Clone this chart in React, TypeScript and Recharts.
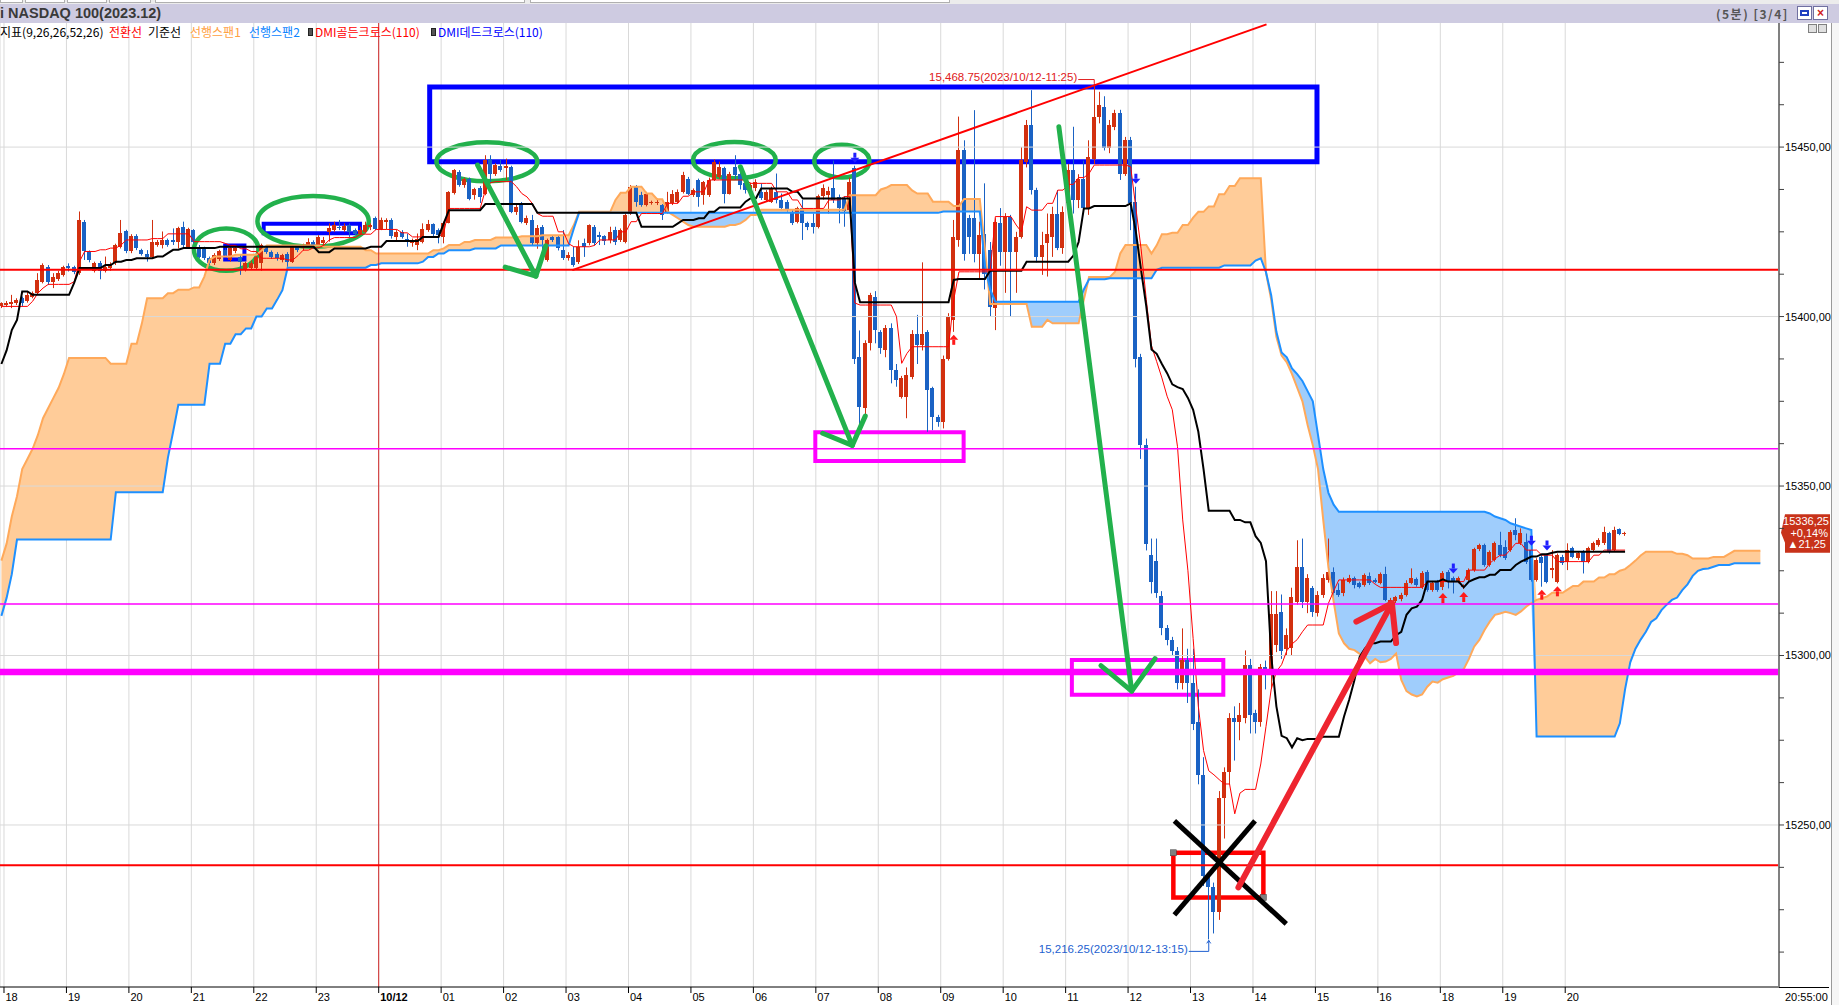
import React from 'react'
import {
    ComposedChart, XAxis, YAxis, CartesianGrid, Bar, Line, Area, Scatter,
    ReferenceLine, ReferenceArea, ReferenceDot
} from 'recharts'

// ---------- data ----------
// 5-minute candles [open, high, low, close], first one is 17:55 (index -1)
const FIRST = -1
const LAST_CANDLE = 311
const LAST_SPAN = 337

const candles: number[][] = [
    [15403.1, 15404.2, 15402.5, 15403.9],
    // 18:00
    [15403.4, 15404.6, 15402.8, 15404.1], [15403.7, 15406.4, 15402.5, 15404.4], [15403.9, 15405.4, 15403.4, 15404.9],
    [15405.4, 15405.9, 15402.9, 15404.1], [15404.7, 15407.4, 15404.1, 15406.4], [15405.9, 15407.4, 15405.4, 15406.9],
    [15406.9, 15412.8, 15406.4, 15410.8], [15410.3, 15415.7, 15409.8, 15415.2], [15414.5, 15415.2, 15409.3, 15410.3],
    [15410.3, 15412.8, 15408.4, 15411.8], [15411.0, 15413.5, 15410.5, 15412.8], [15412.3, 15415.0, 15411.8, 15414.5],
    // 19:00
    [15415.0, 15415.7, 15413.3, 15414.3], [15414.5, 15415.0, 15412.5, 15413.0], [15412.8, 15431.0, 15412.3, 15428.5],
    [15428.0, 15428.5, 15416.7, 15419.2], [15419.0, 15419.5, 15416.0, 15416.7], [15413.3, 15416.2, 15413.0, 15415.7],
    [15415.9, 15416.4, 15411.0, 15413.3], [15413.5, 15417.7, 15413.0, 15414.7], [15414.2, 15416.0, 15413.5, 15415.2],
    [15415.7, 15421.5, 15415.2, 15421.1], [15420.6, 15428.5, 15420.1, 15424.8], [15425.1, 15425.6, 15418.7, 15419.2],
    // 20:00
    [15419.2, 15424.3, 15418.7, 15423.8], [15423.8, 15424.3, 15419.6, 15420.1], [15419.6, 15420.0, 15418.0, 15418.5],
    [15418.5, 15419.6, 15416.2, 15417.7], [15417.7, 15428.5, 15417.2, 15422.1], [15421.1, 15422.6, 15420.6, 15422.1],
    [15421.1, 15425.1, 15420.1, 15422.6], [15422.6, 15423.0, 15420.6, 15421.1], [15422.6, 15426.0, 15421.1, 15422.1],
    [15422.1, 15426.5, 15420.1, 15426.2], [15426.5, 15428.0, 15420.1, 15421.1], [15420.6, 15426.2, 15420.1, 15425.8],
    // 21:00
    [15425.4, 15425.8, 15421.6, 15422.1], [15420.1, 15421.1, 15417.2, 15417.7], [15420.1, 15420.6, 15416.7, 15417.2],
    [15417.2, 15417.7, 15415.2, 15415.7], [15415.7, 15418.7, 15415.2, 15418.2], [15416.9, 15419.7, 15416.4, 15419.2],
    [15419.7, 15420.1, 15417.7, 15418.2], [15416.7, 15420.6, 15416.2, 15420.1], [15419.2, 15420.6, 15418.7, 15420.1],
    [15417.7, 15418.2, 15412.3, 15416.2], [15413.8, 15416.2, 15413.3, 15415.7], [15414.2, 15416.5, 15413.8, 15415.7],
    // 22:00
    [15414.2, 15418.2, 15413.8, 15417.7], [15415.7, 15421.5, 15413.5, 15421.1], [15420.6, 15421.0, 15418.5, 15419.1],
    [15419.1, 15419.5, 15417.0, 15417.6], [15418.6, 15419.0, 15416.5, 15417.2], [15416.7, 15418.5, 15416.0, 15418.1],
    [15418.6, 15419.0, 15414.7, 15416.2], [15416.2, 15421.0, 15415.8, 15420.6], [15420.6, 15421.0, 15419.0, 15419.6],
    [15420.1, 15421.5, 15419.5, 15421.1], [15421.1, 15423.1, 15420.8, 15422.1], [15422.1, 15422.5, 15420.0, 15420.6],
    // 23:00
    [15421.1, 15424.0, 15420.6, 15423.5], [15421.6, 15423.5, 15421.0, 15422.6], [15425.0, 15427.5, 15422.1, 15426.0],
    [15425.5, 15428.0, 15425.0, 15427.0], [15426.5, 15428.5, 15425.5, 15426.0], [15425.5, 15427.5, 15425.0, 15426.7],
    [15427.0, 15427.5, 15423.5, 15425.0], [15425.5, 15426.0, 15424.0, 15424.5], [15424.5, 15426.5, 15424.0, 15425.5],
    [15425.0, 15428.0, 15424.5, 15427.0], [15426.5, 15427.5, 15425.5, 15427.0], [15429.2, 15429.5, 15425.5, 15425.7],
    // 00:00 (10/12)
    [15425.7, 15429.2, 15425.5, 15428.5], [15428.0, 15429.0, 15425.7, 15428.5], [15428.5, 15429.0, 15423.0, 15423.7],
    [15423.5, 15425.5, 15422.1, 15425.0], [15425.0, 15425.5, 15423.0, 15423.5], [15423.0, 15424.5, 15420.6, 15422.1],
    [15421.6, 15423.0, 15420.6, 15422.6], [15421.1, 15424.5, 15419.6, 15423.0], [15422.1, 15427.5, 15421.6, 15425.7],
    [15425.5, 15428.5, 15425.0, 15427.2], [15427.2, 15427.5, 15423.5, 15424.5], [15425.5, 15426.0, 15421.6, 15424.0],
    // 01:00
    [15423.5, 15428.0, 15421.6, 15427.7], [15427.7, 15437.0, 15427.5, 15436.8], [15436.5, 15443.5, 15436.0, 15443.2],
    [15442.7, 15443.2, 15438.3, 15438.8], [15438.8, 15441.0, 15438.0, 15440.7], [15440.7, 15441.0, 15434.3, 15434.8],
    [15435.8, 15438.0, 15434.5, 15437.5], [15437.8, 15438.5, 15433.5, 15435.3], [15436.3, 15447.6, 15435.8, 15446.2],
    [15446.4, 15447.6, 15439.8, 15442.2], [15442.2, 15445.2, 15441.5, 15444.7], [15444.4, 15446.2, 15442.7, 15443.2],
    // 02:00
    [15443.7, 15446.6, 15440.3, 15444.4], [15444.2, 15444.5, 15430.5, 15430.9], [15430.9, 15433.0, 15430.0, 15432.4],
    [15433.4, 15433.8, 15427.5, 15428.0], [15427.5, 15429.8, 15427.0, 15429.2], [15428.5, 15430.0, 15421.0, 15421.6],
    [15421.6, 15427.0, 15420.0, 15426.0], [15426.5, 15427.0, 15419.6, 15422.6], [15416.7, 15423.0, 15416.2, 15422.6],
    [15423.5, 15424.0, 15422.0, 15422.6], [15423.5, 15424.0, 15419.5, 15420.1], [15419.6, 15425.5, 15416.7, 15417.2],
    // 03:00
    [15417.2, 15419.0, 15416.5, 15418.1], [15417.6, 15420.6, 15414.7, 15415.2], [15416.2, 15422.5, 15415.5, 15420.6],
    [15421.6, 15423.0, 15417.6, 15420.6], [15421.6, 15427.2, 15421.0, 15427.0], [15426.5, 15427.0, 15421.0, 15421.6],
    [15424.0, 15425.0, 15421.1, 15423.5], [15423.7, 15424.0, 15421.1, 15422.3], [15422.6, 15426.5, 15421.6, 15425.0],
    [15425.5, 15426.5, 15421.1, 15422.1], [15422.6, 15426.0, 15422.0, 15425.5], [15422.1, 15430.5, 15421.6, 15430.0],
    // 04:00
    [15430.4, 15438.8, 15430.0, 15438.3], [15438.3, 15438.8, 15432.4, 15433.9], [15435.8, 15436.8, 15432.4, 15432.9],
    [15432.9, 15436.8, 15432.5, 15436.3], [15433.4, 15434.2, 15433.0, 15433.9], [15433.4, 15434.8, 15432.9, 15433.9],
    [15432.9, 15433.2, 15428.5, 15429.9], [15430.9, 15436.8, 15430.4, 15433.9], [15433.4, 15437.3, 15432.9, 15436.3],
    [15433.9, 15437.5, 15433.5, 15436.8], [15436.8, 15442.7, 15436.3, 15441.7], [15440.7, 15441.2, 15435.8, 15436.3],
    // 05:00
    [15435.8, 15437.8, 15435.3, 15437.3], [15440.3, 15440.7, 15432.4, 15435.3], [15435.8, 15440.0, 15433.0, 15439.8],
    [15435.8, 15441.0, 15435.3, 15440.3], [15440.3, 15446.4, 15440.0, 15445.7], [15441.2, 15445.7, 15440.7, 15444.2],
    [15443.7, 15444.2, 15433.4, 15436.3], [15436.3, 15442.7, 15436.0, 15442.2], [15444.2, 15447.6, 15440.3, 15441.7],
    [15442.2, 15443.0, 15437.5, 15438.8], [15439.3, 15441.2, 15436.3, 15437.3], [15437.3, 15439.5, 15436.8, 15438.8],
    // 06:00
    [15437.8, 15440.5, 15437.0, 15439.8], [15436.8, 15439.3, 15434.4, 15434.9], [15434.4, 15437.3, 15434.0, 15436.8],
    [15433.9, 15438.3, 15433.5, 15437.8], [15436.8, 15442.2, 15433.4, 15434.4], [15434.4, 15436.3, 15431.4, 15431.9],
    [15433.9, 15434.4, 15431.0, 15431.4], [15430.9, 15431.4, 15427.0, 15427.5], [15428.0, 15432.4, 15427.5, 15431.9],
    [15431.9, 15434.4, 15422.6, 15427.7], [15427.5, 15428.0, 15425.5, 15426.5], [15427.7, 15430.4, 15424.5, 15426.3],
    // 07:00
    [15426.5, 15436.0, 15426.0, 15435.5], [15435.5, 15439.0, 15434.5, 15437.8], [15436.0, 15438.3, 15430.4, 15437.0],
    [15437.8, 15446.0, 15433.5, 15434.4], [15435.2, 15436.0, 15427.5, 15431.9], [15434.9, 15435.5, 15426.5, 15431.0],
    [15431.4, 15441.0, 15430.5, 15439.8], [15443.7, 15444.5, 15386.0, 15387.6], [15388.1, 15395.9, 15366.8, 15373.4],
    [15373.0, 15393.0, 15371.0, 15392.1], [15392.1, 15407.0, 15390.0, 15406.3], [15405.8, 15407.5, 15392.1, 15396.0],
    // 08:00
    [15395.5, 15396.0, 15389.0, 15390.6], [15390.1, 15397.5, 15388.0, 15396.5], [15396.5, 15398.0, 15380.3, 15384.2],
    [15384.2, 15386.0, 15379.3, 15381.3], [15376.3, 15382.5, 15375.8, 15381.8], [15376.3, 15385.0, 15370.0, 15382.7],
    [15382.2, 15396.0, 15381.5, 15395.0], [15395.0, 15400.5, 15386.0, 15391.6], [15391.6, 15416.0, 15390.0, 15395.0],
    [15395.5, 15396.0, 15366.0, 15378.3], [15378.8, 15379.3, 15366.5, 15370.4], [15370.4, 15371.0, 15367.5, 15369.0],
    // 09:00
    [15369.0, 15388.5, 15367.0, 15387.6], [15387.6, 15401.0, 15387.0, 15400.0], [15399.0, 15428.5, 15395.5, 15423.5],
    [15422.6, 15459.0, 15420.6, 15449.1], [15449.1, 15452.0, 15416.5, 15418.6], [15429.0, 15430.0, 15418.5, 15423.5],
    [15429.0, 15460.9, 15416.0, 15418.6], [15418.6, 15428.0, 15410.8, 15424.0], [15424.5, 15439.3, 15408.0, 15412.7],
    [15419.6, 15422.0, 15400.0, 15402.9], [15402.4, 15429.0, 15396.0, 15428.0], [15427.5, 15432.0, 15415.0, 15419.1],
    // 10:00
    [15419.1, 15430.5, 15407.0, 15429.5], [15429.5, 15430.0, 15400.0, 15419.1], [15419.1, 15425.0, 15407.0, 15423.5],
    [15423.5, 15450.0, 15423.0, 15446.2], [15445.7, 15458.0, 15444.0, 15456.5], [15456.5, 15466.8, 15436.0, 15437.3],
    [15437.3, 15438.0, 15416.0, 15417.6], [15417.6, 15425.0, 15412.3, 15421.1], [15421.6, 15430.4, 15411.8, 15424.5],
    [15423.5, 15432.4, 15417.6, 15430.4], [15430.4, 15437.3, 15419.6, 15420.1], [15420.1, 15432.5, 15418.5, 15430.9],
    // 11:00
    [15433.4, 15445.0, 15430.0, 15443.2], [15443.2, 15456.0, 15430.4, 15434.4], [15434.4, 15442.0, 15432.0, 15440.7],
    [15440.7, 15446.0, 15431.0, 15431.9], [15431.9, 15452.0, 15430.0, 15447.1], [15446.6, 15468.75, 15445.0, 15458.9],
    [15459.0, 15466.3, 15457.0, 15462.4], [15461.9, 15465.0, 15449.0, 15449.6], [15449.6, 15458.0, 15448.2, 15456.5],
    [15456.0, 15461.0, 15455.0, 15460.0], [15460.0, 15461.0, 15440.3, 15442.2], [15442.2, 15453.0, 15441.5, 15452.1],
    // 12:00
    [15452.1, 15453.0, 15425.5, 15433.4], [15433.9, 15438.3, 15385.0, 15387.6], [15388.0, 15389.0, 15358.0, 15362.0],
    [15362.0, 15364.0, 15331.0, 15333.0], [15329.8, 15334.5, 15318.3, 15321.7], [15327.8, 15334.5, 15317.0, 15318.3],
    [15317.6, 15319.0, 15306.0, 15308.1], [15308.1, 15309.0, 15303.0, 15304.7], [15304.7, 15305.5, 15300.0, 15301.4],
    [15301.4, 15302.5, 15290.0, 15291.9], [15291.9, 15308.0, 15290.0, 15298.6], [15298.6, 15302.0, 15286.0, 15291.9],
    // 13:00
    [15291.9, 15302.0, 15278.0, 15279.7], [15280.4, 15290.0, 15262.0, 15264.8], [15264.8, 15270.0, 15232.0, 15235.0],
    [15235.0, 15236.0, 15216.25, 15231.6], [15231.6, 15233.0, 15218.0, 15224.2], [15224.2, 15260.0, 15222.0, 15258.0],
    [15258.0, 15267.0, 15246.0, 15265.5], [15265.5, 15283.0, 15262.0, 15281.7], [15281.7, 15285.0, 15269.0, 15280.4],
    [15280.4, 15286.0, 15275.0, 15282.4], [15281.7, 15301.5, 15280.0, 15297.3], [15297.3, 15299.0, 15277.0, 15282.4],
    // 14:00
    [15283.0, 15284.0, 15277.0, 15280.4], [15280.4, 15297.5, 15279.0, 15296.6], [15296.6, 15298.5, 15290.0, 15295.0],
    [15295.0, 15319.0, 15290.0, 15312.2], [15303.0, 15319.0, 15301.0, 15312.2], [15312.9, 15318.0, 15299.0, 15301.4],
    [15302.0, 15308.0, 15300.0, 15306.0], [15302.1, 15320.0, 15300.0, 15317.4], [15315.9, 15334.0, 15315.0, 15326.2],
    [15326.2, 15334.5, 15314.0, 15315.9], [15315.9, 15324.0, 15312.5, 15322.8], [15319.8, 15320.5, 15311.4, 15312.9],
    // 15:00
    [15312.4, 15319.0, 15311.5, 15317.9], [15317.9, 15324.0, 15317.0, 15322.8], [15322.3, 15334.5, 15321.5, 15324.7],
    [15324.7, 15326.0, 15317.3, 15318.5], [15319.3, 15321.3, 15317.3, 15317.9], [15318.3, 15323.0, 15317.5, 15322.3],
    [15321.8, 15323.8, 15321.3, 15322.8], [15322.8, 15323.3, 15319.8, 15320.8], [15321.3, 15321.8, 15319.8, 15320.3],
    [15320.8, 15324.2, 15320.3, 15323.7], [15323.5, 15324.5, 15320.8, 15321.3], [15322.3, 15322.8, 15321.3, 15321.8],
    // 16:00
    [15321.5, 15324.5, 15321.0, 15324.0], [15324.0, 15326.2, 15316.0, 15316.4], [15315.2, 15317.0, 15314.5, 15316.4],
    [15316.2, 15317.6, 15315.5, 15317.2], [15316.6, 15318.5, 15316.0, 15317.9], [15317.9, 15322.2, 15317.4, 15321.5],
    [15321.5, 15325.7, 15321.0, 15322.8], [15322.5, 15323.0, 15320.3, 15320.8], [15320.1, 15324.9, 15319.6, 15324.4],
    [15324.7, 15325.2, 15318.8, 15319.3], [15319.3, 15322.0, 15318.8, 15321.3], [15321.8, 15322.3, 15318.8, 15319.3],
    // 18:00
    [15320.3, 15324.9, 15319.3, 15324.4], [15324.7, 15325.2, 15319.8, 15321.8], [15322.8, 15323.3, 15318.3, 15321.8],
    [15321.8, 15323.3, 15321.3, 15322.8], [15320.1, 15321.0, 15319.6, 15320.5], [15322.3, 15325.7, 15321.8, 15325.2],
    [15325.2, 15331.8, 15324.7, 15331.3], [15331.3, 15333.0, 15330.8, 15332.6], [15332.6, 15333.0, 15326.2, 15326.7],
    [15326.7, 15331.0, 15326.2, 15330.6], [15328.2, 15333.6, 15327.7, 15333.1], [15332.6, 15336.5, 15329.0, 15329.6],
    // 19:00
    [15332.1, 15334.0, 15328.2, 15328.7], [15331.1, 15337.0, 15330.6, 15336.5], [15337.0, 15340.5, 15334.0, 15335.5],
    [15333.1, 15337.5, 15332.6, 15336.0], [15333.6, 15336.0, 15327.0, 15327.7], [15331.1, 15331.5, 15321.8, 15322.3],
    [15322.3, 15328.7, 15321.8, 15328.2], [15329.2, 15329.7, 15320.3, 15327.2], [15329.6, 15330.1, 15321.3, 15321.8],
    [15325.2, 15331.1, 15322.8, 15325.7], [15321.8, 15330.1, 15321.3, 15329.6], [15329.2, 15329.7, 15326.7, 15327.2],
    // 20:00
    [15327.7, 15333.1, 15325.2, 15331.1], [15331.6, 15332.1, 15328.7, 15329.2], [15328.7, 15330.6, 15328.2, 15330.1],
    [15330.6, 15331.1, 15324.2, 15327.7], [15327.7, 15332.1, 15327.2, 15331.6], [15331.1, 15333.6, 15330.6, 15333.1],
    [15332.6, 15334.6, 15332.1, 15334.1], [15333.1, 15338.0, 15332.6, 15336.5], [15336.0, 15336.5, 15330.1, 15330.6],
    [15331.1, 15338.0, 15330.6, 15337.0], [15337.2, 15337.5, 15335.5, 15335.8], [15336.0, 15336.5, 15335.3, 15336.25],
]

// ichimoku lines as [candle index, value] change points (value holds until the next point)
const convPts: number[][] = [
    [-1, 15403], [5, 15404.5], [6, 15406.9], [7, 15408.4], [8, 15409.5], [13, 15410.3], [14, 15416.2], [15, 15419.2],
    [18, 15419.7], [20, 15420.2], [22, 15421.1], [23, 15422.6], [28, 15423], [31, 15424.4], [36, 15422.1], [42, 15421.6],
    [43, 15421], [45, 15420], [47, 15419.2], [49, 15417.2], [54, 15416.7], [56, 15418], [57, 15419.6], [59, 15420.3],
    [61, 15421.1], [62, 15422.6], [63, 15423.3], [68, 15424.3], [71, 15425.7], [76, 15424.7], [78, 15423.5], [84, 15424.7],
    [85, 15431.9], [92, 15437.3], [93, 15439.5], [94, 15439.8], [98, 15438.3], [99, 15436.3], [100, 15435.3], [101, 15433.4],
    [102, 15430.4], [103, 15429.6], [106, 15425], [108, 15421.5], [109, 15420.6], [113, 15421], [114, 15422.6], [118, 15425],
    [120, 15428], [122, 15430.4], [127, 15433.4], [130, 15435.5], [132, 15436.8], [135, 15440.3], [143, 15439.3],
    [148, 15436.8], [151, 15434.4], [153, 15431.9], [158, 15434.4], [161, 15435.4], [163, 15404], [164, 15403.4],
    [171, 15400], [172, 15386.2], [173, 15389.1], [174, 15391.1], [182, 15405], [183, 15413.2], [190, 15429.5],
    [194, 15427], [195, 15425], [196, 15432.4], [197, 15431.4], [200, 15433.4], [202, 15437.3], [204, 15439], [206, 15441],
    [208, 15442.2], [209, 15444.7], [216, 15444.2], [217, 15432], [218, 15420], [219, 15405], [220, 15391.4], [221, 15386.7],
    [222, 15381.9], [223, 15376.5], [224, 15372.5], [225, 15361.6], [226, 15340], [227, 15325], [228, 15305], [229, 15285],
    [230, 15272], [231, 15266], [232, 15264.8], [233, 15263.4], [234, 15262.1], [236, 15253.3], [237, 15259.4],
    [238, 15260.5], [241, 15268], [242, 15279], [243, 15290], [244, 15295.3], [245, 15297.3], [246, 15301.4],
    [247, 15303.4], [248, 15304.7], [249, 15307], [250, 15309], [254, 15315.4], [255, 15319], [256, 15322.3], [263, 15321],
    [264, 15320.1], [273, 15321.8], [281, 15325.2], [285, 15327.2], [286, 15328.5], [287, 15329.6], [289, 15331.3],
    [290, 15333.1], [292, 15331.1], [295, 15329.6], [298, 15327.7], [305, 15329.6], [307, 15331.1],
]

const basePts: number[][] = [
    [-1, 15386], [0, 15390], [1, 15396], [2, 15399], [3, 15407.4], [5, 15406.4], [13, 15410], [14, 15414.3], [19, 15415.2],
    [21, 15416.2], [23, 15416.7], [25, 15417.2], [29, 15417.7], [31, 15418.7], [32, 15419.7], [34, 15420.2], [41, 15420.6],
    [60, 15419], [63, 15420.1], [70, 15420.6], [73, 15422.3], [80, 15423.5], [84, 15427.5], [85, 15431.4], [92, 15433.2],
    [102, 15430.6], [122, 15426.5], [129, 15427.5], [130, 15428.5], [133, 15429], [135, 15430.9], [137, 15432.2],
    [142, 15433.9], [143, 15434.9], [145, 15437.8], [151, 15436.8], [153, 15434.8], [163, 15410], [164, 15404.2],
    [182, 15410.8], [183, 15411.1], [189, 15413.5], [196, 15416.2], [205, 15418], [206, 15422], [207, 15431.9],
    [209, 15432.6], [216, 15433.4], [217, 15425], [218, 15413.7], [219, 15403], [220, 15390.3], [221, 15389], [222, 15386],
    [223, 15383.3], [224, 15380], [225, 15379.2], [226, 15378.6], [227, 15376], [228, 15372.5], [229, 15366], [230, 15355],
    [231, 15342.7], [236, 15340], [238, 15339.3], [240, 15335.2], [241, 15333.2], [242, 15327.8], [243, 15300],
    [244, 15285], [245, 15276.3], [246, 15275.6], [247, 15272.9], [248, 15275.6], [249, 15275], [250, 15275.4],
    [253, 15276], [257, 15282], [258, 15287], [259, 15292.8], [260, 15299.6], [261, 15302], [262, 15303.6], [264, 15304.1],
    [267, 15306], [268, 15307], [269, 15312], [270, 15313.9], [271, 15314.4], [272, 15316.4], [273, 15321.8],
    [276, 15322.5], [277, 15321.8], [280, 15320.1], [281, 15321.8], [282, 15322.5], [283, 15323.1], [285, 15323.8],
    [287, 15325.2], [290, 15326.7], [291, 15327.7], [292, 15328.4], [293, 15329.2], [295, 15329.9], [297, 15330.3],
    [298, 15330.6],
]

const span1Pts: number[][] = [
    [-1, 15328], [0, 15333], [1, 15341], [2, 15347], [3, 15355], [4, 15358], [5, 15361], [6, 15365], [7, 15370], [8, 15373],
    [9, 15376], [10, 15379], [11, 15383], [12, 15387.8], [20, 15386.1], [24, 15392], [26, 15398], [27, 15405.4],
    [31, 15406.9], [33, 15407.9], [36, 15408.6], [38, 15411.8], [39, 15416.7], [40, 15417.7], [44, 15418.2], [49, 15419.5],
    [50, 15421], [61, 15420.6], [69, 15419.6], [71, 15418.6], [82, 15419.6], [84, 15420.1], [85, 15421.1], [88, 15422],
    [90, 15422.6], [94, 15423.3], [99, 15423.7], [103, 15424], [109, 15427], [110, 15430.9], [117, 15434.4], [118, 15436.5],
    [120, 15438.3], [123, 15436.3], [125, 15434.6], [127, 15431], [128, 15430], [129, 15429], [130, 15428], [131, 15427],
    [132, 15426.5], [139, 15427], [141, 15427.5], [142, 15428.5], [143, 15430], [145, 15431.5], [162, 15435.8],
    [168, 15437.5], [169, 15438], [170, 15438.8], [174, 15437.2], [175, 15436.3], [178, 15433.9], [182, 15432.6],
    [184, 15434.7], [188, 15420], [189, 15403.7], [197, 15397], [200, 15399], [201, 15398], [207, 15405], [208, 15411.7],
    [213, 15413.2], [214, 15418.6], [215, 15421.1], [220, 15418.6], [221, 15421], [222, 15424.3], [224, 15424.7],
    [226, 15427], [228, 15429.2], [229, 15430.9], [231, 15432.5], [233, 15436.1], [235, 15438.5], [237, 15440.8],
    [242, 15413], [243, 15405], [244, 15394], [245, 15388.5], [246, 15386.5], [247, 15383], [248, 15379], [249, 15375],
    [250, 15368], [251, 15362], [252, 15355], [253, 15340], [254, 15326], [255, 15316], [256, 15306.5], [257, 15303.6],
    [258, 15302], [259, 15301.6], [260, 15300.5], [261, 15299.6], [262, 15297.7], [263, 15299], [264, 15298],
    [265, 15298.2], [266, 15299], [267, 15300.6], [268, 15292.8], [269, 15289.5], [270, 15288.5], [271, 15287.9],
    [272, 15288.5], [273, 15290.8], [274, 15292.3], [275, 15292], [276, 15293], [277, 15293.5], [278, 15294], [279, 15295],
    [280, 15296], [281, 15299], [282, 15302.6], [283, 15304.6], [284, 15307.5], [285, 15310], [286, 15312], [287, 15312.4],
    [288, 15312.9], [289, 15312.5], [290, 15312], [291, 15313], [292, 15314.4], [293, 15315.5], [294, 15316.4],
    [295, 15316.9], [296, 15317.4], [297, 15318.5], [300, 15319.5], [301, 15320.5], [303, 15321.8], [306, 15323],
    [308, 15324], [310, 15325], [311, 15325.5], [312, 15326.7], [313, 15328], [314, 15329.5], [315, 15330.6], [321, 15330],
    [323, 15329.6], [324, 15328.6], [328, 15329.1], [331, 15330], [332, 15330.9],
]

const span2Pts: number[][] = [
    [-1, 15311.7], [0, 15317], [1, 15324], [2, 15334.2], [21, 15348.2], [31, 15358.4], [32, 15366], [33, 15374],
    [39, 15386.1], [42, 15392], [44, 15394.8], [46, 15396.5], [48, 15400], [50, 15402.4], [52, 15405], [53, 15407.8],
    [54, 15414.4], [70, 15415.2], [72, 15415.7], [80, 15416.2], [81, 15417.6], [83, 15418.6], [85, 15419.6], [90, 15420.1],
    [95, 15421], [109, 15426], [110, 15430.6], [180, 15431], [188, 15415], [189, 15408], [190, 15404.4], [207, 15408],
    [208, 15411], [212, 15411.3], [221, 15413.8], [222, 15414.4], [234, 15415.1], [240, 15416.5], [241, 15417.2],
    [242, 15413.1], [243, 15406.3], [244, 15395.5], [245, 15389.4], [246, 15388], [247, 15384.7], [248, 15383],
    [249, 15381], [250, 15378], [251, 15375], [252, 15365], [253, 15355], [254, 15348], [255, 15344.5], [256, 15342.4],
    [285, 15341.9], [286, 15341], [287, 15340.5], [288, 15340], [289, 15339], [290, 15338.5], [291, 15338], [292, 15337.5],
    [293, 15337], [294, 15276.1], [310, 15280], [311, 15290], [312, 15298], [313, 15302], [314, 15304.7], [315, 15307],
    [316, 15309.9], [317, 15311], [318, 15313.4], [319, 15315], [320, 15316.4], [321, 15317.1], [322, 15319.3], [323, 15321],
    [324, 15323.5], [325, 15325], [326, 15325.5], [327, 15325.7], [328, 15326.2], [329, 15326.7], [332, 15327.2],
]

// DMI cross signals (candle indices)
const dmiDead = [163, 217, 278, 293, 296]
const dmiGolden = [182, 276, 280, 295, 298]

// axis ticks
const hourTicks = [-0.5, 11.5, 23.5, 35.5, 47.5, 59.5, 71.5, 83.5, 95.5, 107.5, 119.5, 131.5, 143.5, 155.5, 167.5,
    179.5, 191.5, 203.5, 215.5, 227.5, 239.5, 251.5, 263.5, 275.5, 287.5, 299.5]
const hourLabels = ['18', '19', '20', '21', '22', '23', '10/12', '01', '02', '03', '04', '05', '06', '07', '08', '09',
    '10', '11', '12', '13', '14', '15', '16', '18', '19', '20']
const priceTicks = [15212.5, 15225, 15237.5, 15250, 15262.5, 15275, 15287.5, 15300, 15312.5, 15325, 15337.5, 15350,
    15362.5, 15375, 15387.5, 15400, 15412.5, 15425, 15437.5, 15450, 15462.5, 15475]
const gridPrices = [15250, 15300, 15350, 15400, 15450]

// session extremes and last price
const extremes = [
    { i: 209, price: 15468.75, time: '2023/10/12-11:25', side: 'high' },
    { i: 231, price: 15216.25, time: '2023/10/12-13:15', side: 'low' },
]
const lastPrice = { price: 15336.25, pct: '+0,14%', change: '▲21,25' }

// user drawings (in candle index / price units)
const levels = [
    { y: 15413.8, color: '#ff0000', w: 2 },
    { y: 15361.0, color: '#ff00ff', w: 1.5 },
    { y: 15315.2, color: '#ff00ff', w: 1.5 },
    { y: 15295.1, color: '#ff00ff', w: 6.5 },
    { y: 15238.1, color: '#ff0000', w: 2 },
]
const boxes = [
    { x1: 81.3, x2: 251.8, y1: 15445.7, y2: 15467.7, color: '#0000ff', w: 5 },
    { x1: 42, x2: 45.7, y1: 15416.8, y2: 15421, color: '#0000ff', w: 4 },
    { x1: 49.4, x2: 67.9, y1: 15424.6, y2: 15427.4, color: '#0000ff', w: 4 },
    { x1: 155.4, x2: 183.9, y1: 15357.4, y2: 15365.9, color: '#ff00ff', w: 4 },
    { x1: 204.7, x2: 233.8, y1: 15288.4, y2: 15298.7, color: '#ff00ff', w: 4 },
]
const ovals = [
    { x1: 36, x2: 48.4, y1: 15413.5, y2: 15426 },
    { x1: 48.2, x2: 69.6, y1: 15420.6, y2: 15435.6 },
    { x1: 82.6, x2: 102, y1: 15439.9, y2: 15451.4 },
    { x1: 131.9, x2: 147.8, y1: 15440.8, y2: 15451.5 },
    { x1: 155.2, x2: 165.8, y1: 15441, y2: 15450.7 },
]
const arrows = [
    { from: [90.5, 15444.7], to: [101.7, 15411.9], color: '#22b14c', w: 5, head: 32, spread: 0.8 },
    { from: [141, 15444.2], to: [162.5, 15362], color: '#22b14c', w: 5, head: 32, spread: 0.8 },
    { from: [202.2, 15456], to: [216.2, 15289.5], color: '#22b14c', w: 5, head: 40, spread: 0.75 },
    { from: [236.7, 15231.6], to: [266.2, 15315.4], color: '#ee2530', w: 6, head: 40, spread: 0.6 },
]
const trendLine = { from: [108.7, 15413.7], to: [242.1, 15486.2] }
const crossLines = [
    { from: [224.4, 15251.2], to: [245.9, 15220.8] },
    { from: [224.4, 15223.5], to: [239.9, 15251.2] },
]
const redBox = { x1: 224.2, x2: 241.5, y1: 15228.6, y2: 15241.8 }

// ---------- styles ----------
const UP = '#d2300f'
const DOWN = '#1a62c4'
const NUM_FONT = "'Liberation Sans', Arial, sans-serif"
const KR_FONT = "'Noto Sans CJK KR', 'Noto Sans', sans-serif"

const holdValue = (pts: number[][], i: number): number | null => {
    if (i < pts[0][0]) return null
    let v: number | null = null
    for (const [k, val] of pts) {
        if (k <= i) v = val
        else break
    }
    return v
}

const rows: any[] = []
for (let i = FIRST; i <= LAST_SPAN; i++) {
    const cd = candles[i - FIRST]
    const s1 = holdValue(span1Pts, i)
    const s2 = holdValue(span2Pts, i)
    rows.push({
        i,
        hl: cd ? [cd[2], cd[1]] : null,
        o: cd ? cd[0] : null,
        h: cd ? cd[1] : null,
        l: cd ? cd[2] : null,
        c: cd ? cd[3] : null,
        conv: i <= LAST_CANDLE ? holdValue(convPts, i) : null,
        base: i <= LAST_CANDLE ? holdValue(basePts, i) : null,
        s1,
        s2,
        cloudUp: s1 != null && s2 != null ? [s2, Math.max(s1, s2)] : null,
        cloudDown: s1 != null && s2 != null ? [Math.min(s1, s2), s2] : null,
    })
}

const deadPts = dmiDead.map(i => ({ i, y: candles[i - FIRST][1] }))
const goldenPts = dmiGolden.map(i => ({ i, y: candles[i - FIRST][2] }))

const Candle = (props: any) => {
    const { x, width, payload } = props
    let { y, height } = props
    if (!payload || payload.o == null || x == null) return null
    if (height < 0) { y += height; height = -height }
    const { o, h, l, c } = payload
    const color = c >= o ? UP : DOWN
    const cx = Math.floor(x + width / 2) + 0.5
    const k = h - l > 0 ? height / (h - l) : 0
    const yo = y + (h - o) * k
    const yc = y + (h - c) * k
    const top = Math.min(yo, yc)
    const bh = Math.max(1, Math.abs(yo - yc))
    return (
        <g>
            <line x1={cx} x2={cx} y1={y} y2={y + height} stroke={color} strokeWidth={1} />
            <rect x={cx - 2.5} y={top} width={4} height={bh} fill={color} shapeRendering="crispEdges" />
        </g>
    )
}

const DownArrow = (p: any) => {
    const { cx, cy } = p
    return (
        <g fill="#1f1fff">
            <rect x={cx - 1.5} y={cy - 13} width={3} height={5} />
            <polygon points={`${cx - 4.5},${cy - 8} ${cx + 4.5},${cy - 8} ${cx},${cy - 3}`} />
        </g>
    )
}

const UpArrow = (p: any) => {
    const { cx, cy } = p
    return (
        <g fill="#ff1a1a">
            <polygon points={`${cx},${cy + 3} ${cx - 4.5},${cy + 8} ${cx + 4.5},${cy + 8}`} />
            <rect x={cx - 1.5} y={cy + 8} width={3} height={5} />
        </g>
    )
}

const arrowShape = (color: string, w: number, head: number, spread: number) => (p: any) => {
    const { x1, y1, x2, y2 } = p
    const ang = Math.atan2(y2 - y1, x2 - x1) + Math.PI
    const a = ang - spread
    const b = ang + spread
    return (
        <g>
            <line x1={x1} y1={y1} x2={x2} y2={y2} stroke={color} strokeWidth={w} strokeLinecap="round" />
            <polyline
                points={`${x2 + head * Math.cos(a)},${y2 + head * Math.sin(a)} ${x2},${y2} ${x2 + head * Math.cos(b)},${y2 + head * Math.sin(b)}`}
                fill="none" stroke={color} strokeWidth={w} strokeLinecap="round" strokeLinejoin="round"
            />
        </g>
    )
}

const ovalShape = (p: any) => (
    <ellipse cx={p.x + p.width / 2} cy={p.y + p.height / 2} rx={p.width / 2} ry={p.height / 2}
        fill="none" stroke="#22b14c" strokeWidth={4.5} />
)

const redBoxShape = (p: any) => (
    <g>
        <rect x={p.x} y={p.y} width={p.width} height={p.height} fill="none" stroke="#ff0000" strokeWidth={4.5} />
        <rect x={p.x - 3} y={p.y - 3} width={6} height={6} fill="#808080" stroke="#404040" strokeWidth={0.5} />
        <rect x={p.x + p.width - 3} y={p.y + p.height - 3} width={6} height={6} fill="#808080" stroke="#404040" strokeWidth={0.5} />
    </g>
)

const fmtExt = (v: number) => v.toLocaleString('en-US', { minimumFractionDigits: 2, maximumFractionDigits: 2 })

const extremeShape = (e: any) => (p: any) => {
    const { cx, cy } = p
    const text = `${fmtExt(e.price)}(${e.time})`
    if (e.side === 'high') {
        const ly = cy - 4
        return (
            <g>
                <text x={cx - 17} y={cy - 7} dy="0.35em" textAnchor="end" fill="#e02020" fontSize={11.5} fontFamily={NUM_FONT}>{text}</text>
                <polyline points={`${cx - 16},${ly} ${cx},${ly} ${cx},${cy}`} fill="none" stroke="#e02020" strokeWidth={1} />
            </g>
        )
    }
    const ly = cy + 12
    return (
        <g>
            <text x={cx - 21} y={cy + 10} dy="0.35em" textAnchor="end" fill="#1e5fd0" fontSize={11.5} fontFamily={NUM_FONT}>{text}</text>
            <polyline points={`${cx - 20},${ly} ${cx},${ly} ${cx},${cy + 1}`} fill="none" stroke="#1e5fd0" strokeWidth={1} />
            <polyline points={`${cx - 2},${cy + 4} ${cx},${cy + 1} ${cx + 2},${cy + 4}`} fill="none" stroke="#1e5fd0" strokeWidth={1} />
        </g>
    )
}

const priceTag = (p: any) => {
    const x0 = Math.max(p.x1, p.x2)
    const y = p.y1
    const top = y - 18.5
    const bot = y + 20
    return (
        <g>
            <polygon points={`${x0 + 6},${top} ${x0 + 2},${y} ${x0 + 6},${y + 10} ${x0 + 6},${bot} ${x0 + 51},${bot} ${x0 + 51},${top}`} fill="#c8321a" />
            <text x={x0 + 50} y={y - 11} dy="0.35em" textAnchor="end" fill="#fff" fontSize={11} fontFamily={NUM_FONT}>
                {lastPrice.price.toFixed(2).replace('.', ',')}
            </text>
            <text x={x0 + 49} y={y + 1} dy="0.35em" textAnchor="end" fill="#fff" fontSize={11} fontFamily={NUM_FONT}>{lastPrice.pct}</text>
            <text x={x0 + 47} y={y + 12} dy="0.35em" textAnchor="end" fill="#fff" fontSize={11} fontFamily={NUM_FONT}>{lastPrice.change}</text>
        </g>
    )
}

const XTick = (p: any) => {
    const idx = hourTicks.indexOf(p.payload.value)
    const label = hourLabels[idx]
    return (
        <text x={p.x + 1.5} y={p.y} dy="0.72em" textAnchor="start" fill="#000" fontSize={11}
            fontFamily={NUM_FONT} fontWeight={label === '10/12' ? 700 : 400}>{label}</text>
    )
}

const YTick = (p: any) => {
    const v = p.payload.value
    if (v % 50 !== 0) return null
    return (
        <text x={p.x} y={p.y} dy="0.36em" textAnchor="start" fill="#000" fontSize={11} fontFamily={NUM_FONT}>
            {v.toFixed(2).replace('.', ',')}
        </text>
    )
}

const legendItems = [
    { text: '지표(9,26,26,52,26)', x: 0, color: '#000000' },
    { text: '전환선', x: 109, color: '#ff0000' },
    { text: '기준선', x: 148, color: '#000000' },
    { text: '선행스팬1', x: 190, color: '#ffa040' },
    { text: '선행스팬2', x: 249, color: '#0a84ff' },
    { text: 'DMI골든크로스(110)', x: 315, color: '#ff0000' },
    { text: 'DMI데드크로스(110)', x: 438, color: '#0000ff' },
]

const abs = (s: React.CSSProperties): React.CSSProperties => ({ position: 'absolute', ...s })

const App: React.FunctionComponent = () => {
    return (
        <div style={abs({ left: 0, top: 0, width: 1839, height: 1005, background: '#fff', overflow: 'hidden' })}>
            <ComposedChart width={1839} height={1005} data={rows} margin={{ top: 21, right: 5, bottom: 0, left: 0 }}>
                <CartesianGrid stroke="#d9d9d9" horizontal={false} />
                <XAxis dataKey="i" type="number" domain={[-1.268, 340.58]} allowDataOverflow ticks={hourTicks}
                    interval={0} height={18} tickSize={6} tickMargin={0} axisLine={{ stroke: '#000' }}
                    tickLine={{ stroke: '#000' }} tick={<XTick />} />
                <YAxis orientation="right" domain={[15202.2, 15487.2]} allowDataOverflow ticks={priceTicks}
                    interval={0} width={55} tickSize={5} tickMargin={1} axisLine={{ stroke: '#808080', strokeWidth: 2 }}
                    tickLine={{ stroke: '#404040' }} tick={<YTick />} />

                {gridPrices.map(v => (
                    <ReferenceLine key={`g${v}`} y={v} stroke="#d9d9d9" strokeWidth={1} />
                ))}

                <Area dataKey="cloudUp" type="linear" stroke="none" fill="#ffcc99" fillOpacity={1}
                    isAnimationActive={false} dot={false} activeDot={false} />
                <Area dataKey="cloudDown" type="linear" stroke="none" fill="#9fcdfc" fillOpacity={1}
                    isAnimationActive={false} dot={false} activeDot={false} />
                <Line dataKey="s1" type="linear" stroke="#ffa95a" strokeWidth={2} dot={false} activeDot={false}
                    isAnimationActive={false} />
                <Line dataKey="s2" type="linear" stroke="#1e90ff" strokeWidth={2} dot={false} activeDot={false}
                    isAnimationActive={false} />

                <ReferenceLine x={71.5} stroke="#d02828" strokeWidth={1} />

                <Bar dataKey="hl" barSize={5} shape={<Candle />} isAnimationActive={false} />

                <Line dataKey="conv" type="linear" stroke="#ff0000" strokeWidth={1} dot={false} activeDot={false}
                    isAnimationActive={false} />
                <Line dataKey="base" type="linear" stroke="#000000" strokeWidth={2} dot={false} activeDot={false}
                    isAnimationActive={false} />

                {levels.map(l => (
                    <ReferenceLine key={`l${l.y}`} y={l.y} stroke={l.color} strokeWidth={l.w} />
                ))}

                <Scatter data={deadPts} dataKey="y" shape={DownArrow} isAnimationActive={false} />
                <Scatter data={goldenPts} dataKey="y" shape={UpArrow} isAnimationActive={false} />

                <ReferenceLine segment={[{ x: trendLine.from[0], y: trendLine.from[1] }, { x: trendLine.to[0], y: trendLine.to[1] }]}
                    stroke="#ff0000" strokeWidth={2} ifOverflow="visible" />

                {boxes.map((b, k) => (
                    <ReferenceArea key={`b${k}`} x1={b.x1} x2={b.x2} y1={b.y1} y2={b.y2} fill="none"
                        stroke={b.color} strokeWidth={b.w} ifOverflow="visible" />
                ))}
                {ovals.map((o, k) => (
                    <ReferenceArea key={`o${k}`} x1={o.x1} x2={o.x2} y1={o.y1} y2={o.y2} shape={ovalShape} ifOverflow="visible" />
                ))}
                <ReferenceArea x1={redBox.x1} x2={redBox.x2} y1={redBox.y1} y2={redBox.y2} shape={redBoxShape} ifOverflow="visible" />
                {crossLines.map((c, k) => (
                    <ReferenceLine key={`x${k}`} segment={[{ x: c.from[0], y: c.from[1] }, { x: c.to[0], y: c.to[1] }]}
                        stroke="#000" strokeWidth={5} ifOverflow="visible" />
                ))}
                {arrows.map((a, k) => (
                    <ReferenceLine key={`a${k}`} segment={[{ x: a.from[0], y: a.from[1] }, { x: a.to[0], y: a.to[1] }]}
                        ifOverflow="visible" shape={arrowShape(a.color, a.w, a.head, a.spread)} />
                ))}

                {extremes.map(e => (
                    <ReferenceDot key={e.side} x={e.i} y={e.price} r={0} ifOverflow="visible" shape={extremeShape(e)} />
                ))}
                <ReferenceLine y={lastPrice.price} ifOverflow="visible" shape={priceTag} />
            </ComposedChart>

            {/* window chrome */}
            <div style={abs({ left: 0, top: 0, width: 1839, height: 4, background: '#ececec' })} />
            {[[0, 23], [25, 40], [67, 40], [109, 42], [155, 370], [530, 420]].map(([x, w], k) => (
                <div key={k} style={abs({ left: x, top: 0, width: w, height: 3, background: '#fff', border: '1px solid #b0b0b0', borderTop: 'none', boxSizing: 'border-box' })} />
            ))}
            <div style={abs({ left: 0, top: 4, width: 1839, height: 19, background: '#cecbe1' })} />
            <div style={abs({ left: 0, top: 4, height: 19, lineHeight: '19px', fontFamily: NUM_FONT, fontWeight: 700, fontSize: 14.5, color: '#3a3a3a', whiteSpace: 'nowrap' })}>
                i NASDAQ 100(2023.12)
            </div>
            <div style={abs({ left: 1716, top: 4, height: 19, lineHeight: '19px', fontFamily: KR_FONT, fontWeight: 700, fontSize: 12, color: '#555', letterSpacing: 1.5, whiteSpace: 'nowrap' })}>
                (5분) [3/4]
            </div>
            <div style={abs({ left: 1797, top: 6, width: 15, height: 14, background: '#fff', border: '1px solid #7070a0', boxSizing: 'border-box' })}>
                <div style={abs({ left: 2, top: 3, width: 9, height: 6, border: '2px solid #2040c0', boxSizing: 'border-box' })} />
            </div>
            <div style={abs({ left: 1813, top: 6, width: 15, height: 14, background: '#fff', border: '1px solid #7070a0', boxSizing: 'border-box', color: '#d02020', fontSize: 12, lineHeight: '12px', textAlign: 'center', fontFamily: NUM_FONT, fontWeight: 700 })}>×</div>
            <div style={abs({ left: 1808, top: 24, width: 9, height: 9, background: '#e0e0e0', border: '1px solid #808080', boxSizing: 'border-box' })} />
            <div style={abs({ left: 1818, top: 24, width: 9, height: 9, background: '#e0e0e0', border: '1px solid #808080', boxSizing: 'border-box' })} />
            <div style={abs({ left: 1831, top: 23, width: 8, height: 982, background: '#f6f6f6', borderLeft: '1px solid #9a9a9a', boxSizing: 'border-box' })} />

            {/* legend */}
            {legendItems.map(it => (
                <div key={it.text} style={abs({ left: it.x, top: 24, height: 16, lineHeight: '16px', fontFamily: KR_FONT, fontSize: 12, color: it.color, whiteSpace: 'nowrap' })}>
                    {it.text}
                </div>
            ))}
            {[308, 431].map(x => (
                <div key={x} style={abs({ left: x, top: 28, width: 5, height: 8, background: '#555', border: '1px solid #222', boxSizing: 'border-box' })} />
            ))}

            {/* bottom-right time */}
            <div style={abs({ left: 1779, top: 987, width: 50, height: 1, background: '#000' })} />
            <div style={abs({ left: 1785, top: 991, height: 12, lineHeight: '12px', fontFamily: NUM_FONT, fontSize: 11, color: '#000' })}>
                20:55:00
            </div>
        </div>
    )
}

export default App
